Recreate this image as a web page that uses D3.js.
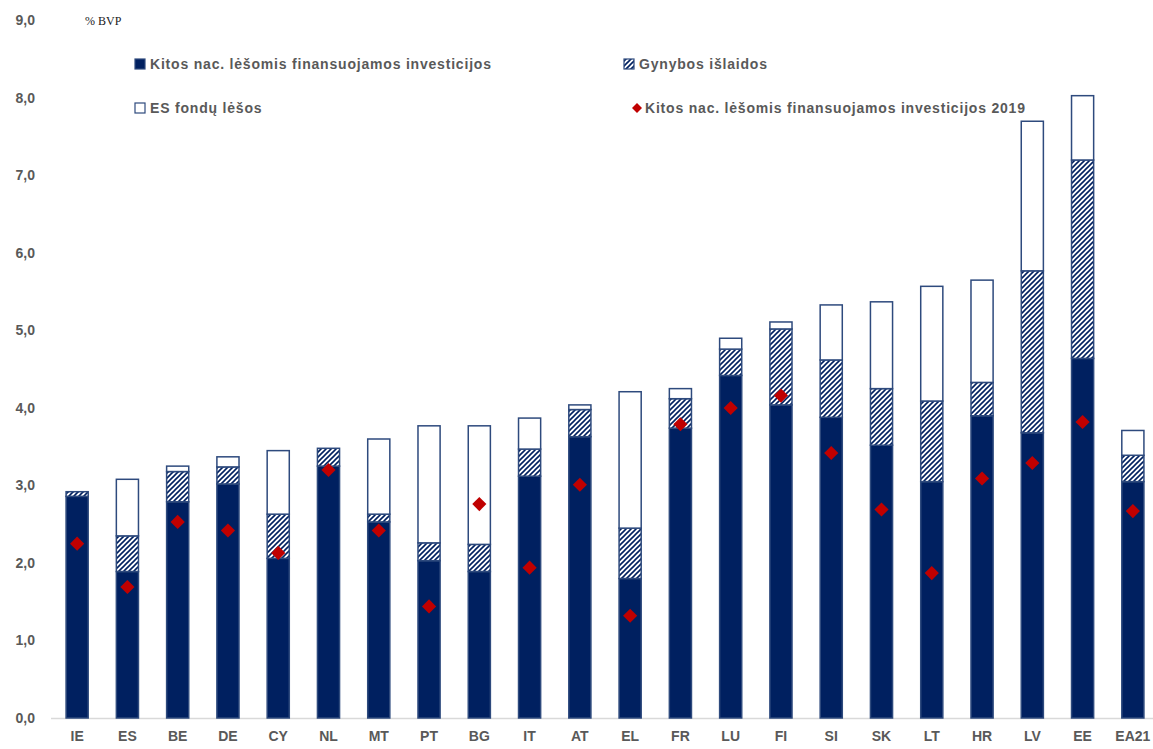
<!DOCTYPE html>
<html><head><meta charset="utf-8">
<script src="https://cdn.jsdelivr.net/npm/d3@7"></script>
<style>body{margin:0;background:#fff}svg{display:block}</style>
</head><body>
<svg id="chart" width="1153" height="749"></svg>
<script>
const categories = ["IE","ES","BE","DE","CY","NL","MT","PT","BG","IT","AT","EL","FR","LU","FI","SI","SK","LT","HR","LV","EE","EA21"];
const nationalInvest = [2.86,1.89,2.79,3.02,2.06,3.25,2.53,2.03,1.89,3.12,3.63,1.80,3.74,4.42,4.04,3.88,3.52,3.05,3.90,3.68,4.64,3.05];
const defence        = [0.06,0.46,0.39,0.22,0.57,0.23,0.10,0.23,0.35,0.35,0.35,0.65,0.38,0.34,0.98,0.74,0.73,1.04,0.43,2.09,2.56,0.34];
const euFunds        = [0.00,0.73,0.07,0.13,0.82,0.00,0.97,1.51,1.53,0.40,0.06,1.76,0.13,0.14,0.09,0.71,1.12,1.48,1.32,1.93,0.83,0.32];
const national2019   = [2.25,1.69,2.53,2.42,2.13,3.20,2.42,1.44,2.76,1.94,3.01,1.32,3.79,4.00,4.16,3.42,2.69,1.87,3.09,3.29,3.82,2.67];
const yTicks = [0,1,2,3,4,5,6,7,8,9];
const seriesNames = ["Kitos nac. lėšomis finansuojamos investicijos","Gynybos išlaidos","ES fondų lėšos","Kitos nac. lėšomis finansuojamos investicijos 2019"];
const unitLabel = "% BVP";

const svg = d3.select("#chart");
const navy = "#002060", edge = "#2e4a7d", red = "#c00000", grey = "#595959";
const font = "'Liberation Sans', Arial, sans-serif";

const defs = svg.append("defs");
const pat = defs.append("pattern").attr("id","hatch").attr("patternUnits","userSpaceOnUse")
  .attr("width",5).attr("height",5);
pat.append("rect").attr("width",5).attr("height",5).attr("fill","#fff");
pat.append("path").attr("d","M-1,1 L1,-1 M0,5 L5,0 M4,6 L6,4").attr("stroke",navy).attr("stroke-width",1.6);

const x = d3.scaleBand().domain(categories).range([52,1158]).paddingInner(0.56).paddingOuter(0.28);
const y = d3.scaleLinear().domain([0,9]).range([718,20.5]);

// y axis labels
const yAxis = d3.axisLeft(y).tickValues(yTicks).tickFormat(d => d3.format(".1f")(d).replace(".",",")).tickSize(0).tickPadding(0);
const ya = svg.append("g").attr("transform","translate(35,0)").call(yAxis);
ya.select(".domain").remove();
ya.selectAll("text").attr("font-family",font).attr("font-weight","bold").attr("font-size",14).attr("fill",grey);

// baseline
const xAxis = d3.axisBottom(x).tickSize(0).tickPadding(0);
const xa = svg.append("g").attr("transform","translate(0,718)").call(xAxis);
xa.select(".domain").attr("stroke","#d9d9d9").attr("stroke-width",1.5).attr("d","M51,0.5H1153");
xa.selectAll("text").attr("font-family",font).attr("font-weight","bold").attr("font-size",14).attr("fill",grey).attr("dy","1.65em");

// stacked bars
const rows = categories.map((c,i)=>({cat:c, a:nationalInvest[i], b:defence[i], e:euFunds[i], p:national2019[i]}));
const stack = d3.stack().keys(["a","b","e"])(rows);
const fills = {a:navy, b:"url(#hatch)", e:"#fff"};
svg.append("g").selectAll("g").data(stack).join("g")
  .attr("fill", d => fills[d.key])
  .selectAll("rect").data(d => d.filter(s => s[1]-s[0] > 0.001)).join("rect")
  .attr("x", d => x(d.data.cat)).attr("width", x.bandwidth())
  .attr("y", d => y(d[1])).attr("height", d => y(d[0]) - y(d[1]))
  .attr("stroke", edge).attr("stroke-width", 1.5);

// diamonds
svg.append("g").selectAll("path").data(rows).join("path")
  .attr("d", d3.symbol(d3.symbolSquare, 100)())
  .attr("transform", d => `translate(${x(d.cat)+x.bandwidth()/2},${y(d.p)}) rotate(45)`)
  .attr("fill", red);

// unit label
svg.append("text").attr("x",85).attr("y",25).attr("font-family","'Liberation Serif', serif").attr("font-size",12).attr("fill","#222").text(unitLabel);

// legend
const lg = svg.append("g").attr("font-family",font).attr("font-weight","bold").attr("font-size",14).attr("letter-spacing",0.8).attr("fill",grey);
const leg = [
  {x:135, y:64, type:"a", name:seriesNames[0]},
  {x:624, y:64, type:"b", name:seriesNames[1]},
  {x:135, y:108, type:"e", name:seriesNames[2]},
  {x:629, y:108, type:"p", name:seriesNames[3]}
];
leg.forEach(l => {
  if (l.type === "p") {
    lg.append("path").attr("d", d3.symbol(d3.symbolSquare, 50)()).attr("transform",`translate(${l.x+8},${l.y}) rotate(45)`).attr("fill",red);
    lg.append("text").attr("x",l.x+16).attr("y",l.y+5).text(l.name);
  } else {
    lg.append("rect").attr("x",l.x).attr("y",l.y-5).attr("width",10).attr("height",10)
      .attr("fill",fills[l.type]).attr("stroke",edge).attr("stroke-width",1.2);
    lg.append("text").attr("x",l.x+15).attr("y",l.y+5).text(l.name);
  }
});
</script>
</body></html>
